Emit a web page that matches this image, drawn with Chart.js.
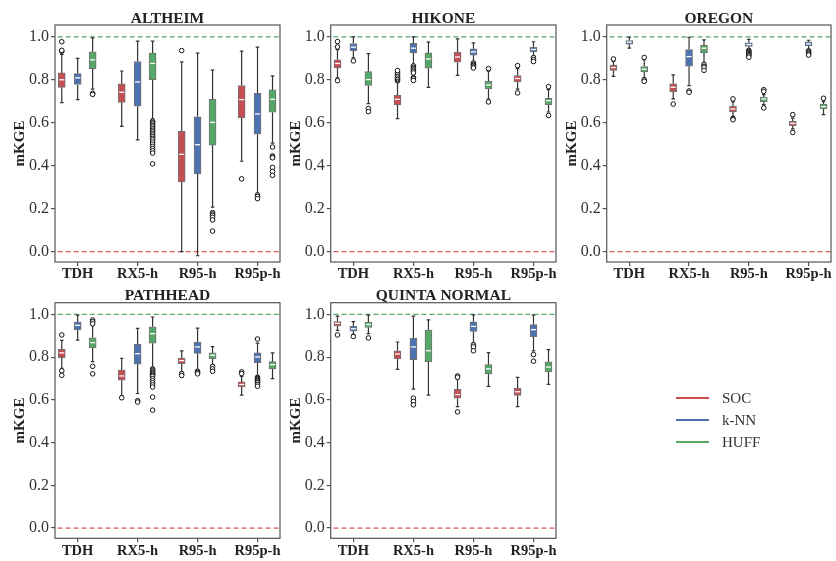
<!DOCTYPE html>
<html><head><meta charset="utf-8">
<script src="https://cdn.jsdelivr.net/npm/chart.js@4/dist/chart.umd.min.js"></script>
<style>
html,body{margin:0;padding:0;background:#fff;}
#wrap{position:relative;width:836px;height:561px;overflow:hidden;background:#fff;}
#wrap canvas{position:absolute;left:0;top:0;}
.leg{position:absolute;font-family:'Liberation Serif',serif;font-size:15px;color:#333;line-height:18px;}
.legline{position:absolute;height:2.5px;width:33px;}
</style></head>
<body><div id="wrap"></div>
<script>
// ---------------- DATA ----------------
const CATEGORIES = ['TDH', 'RX5-h', 'R95-h', 'R95p-h'];
const SERIES = ['SOC', 'k-NN', 'HUFF'];
const Y_TICKS = [0.0, 0.2, 0.4, 0.6, 0.8, 1.0];
const REF_LINES = [1.0, 0.0];
const STATIONS = ['ALTHEIM', 'HIKONE', 'OREGON', 'PATHHEAD', 'QUINTA NORMAL'];

// each row (one per category): [lower whisker, Q1, median, Q3, upper whisker]
const ALTHEIM_SOC  = [[0.694,0.765,0.800,0.832,0.918],[0.583,0.695,0.742,0.781,0.841],[0.000,0.325,0.453,0.560,0.883],[0.421,0.624,0.708,0.773,0.933]];
const ALTHEIM_KNN  = [[0.708,0.778,0.809,0.829,0.900],[0.520,0.677,0.790,0.885,0.980],[-0.019,0.362,0.498,0.628,0.924],[0.272,0.547,0.641,0.737,0.952]];
const ALTHEIM_HUFF = [[0.757,0.852,0.893,0.930,0.995],[0.618,0.800,0.876,0.924,0.980],[0.207,0.496,0.602,0.709,0.845],[0.505,0.649,0.709,0.753,0.818]];
const ALTHEIM_SOC_OUT  = [[0.933,0.937,0.977],[],[0.936],[0.339]];
const ALTHEIM_KNN_OUT  = [[],[],[],[0.264,0.257,0.247]];
const ALTHEIM_HUFF_OUT = [[0.737,0.732],[0.607,0.600,0.594,0.587,0.580,0.572,0.565,0.558,0.550,0.543,0.535,0.527,0.520,0.510,0.500,0.490,0.480,0.470,0.459,0.409],[0.182,0.175,0.169,0.160,0.148,0.096],[0.487,0.446,0.440,0.437,0.392,0.373,0.355]];

const HIKONE_SOC  = [[0.809,0.855,0.876,0.893,0.940],[0.619,0.683,0.709,0.728,0.788],[0.821,0.882,0.906,0.928,0.990],[0.757,0.790,0.806,0.820,0.852]];
const HIKONE_KNN  = [[0.902,0.936,0.952,0.969,1.000],[0.871,0.925,0.947,0.970,1.000],[0.885,0.915,0.930,0.944,0.972],[0.910,0.930,0.941,0.951,0.977]];
const HIKONE_HUFF = [[0.689,0.774,0.801,0.838,0.922],[0.765,0.854,0.897,0.925,0.975],[0.710,0.757,0.776,0.793,0.840],[0.650,0.684,0.703,0.714,0.754]];
const HIKONE_SOC_OUT  = [[0.953,0.978,0.796],[0.795,0.800,0.805,0.812,0.820,0.827,0.835,0.843],[],[0.866,0.739]];
const HIKONE_KNN_OUT  = [[0.888],[0.865,0.858,0.852,0.845,0.840,0.832,0.810,0.805,0.797],[0.878,0.872,0.866,0.860,0.855],[0.903,0.894,0.885]];
const HIKONE_HUFF_OUT = [[0.666,0.652],[],[0.852,0.697],[0.768,0.634]];

const OREGON_SOC  = [[0.816,0.844,0.857,0.868,0.886],[0.711,0.745,0.765,0.781,0.823],[0.630,0.650,0.664,0.676,0.697],[0.572,0.586,0.597,0.607,0.622]];
const OREGON_KNN  = [[0.947,0.966,0.975,0.983,0.998],[0.773,0.863,0.908,0.941,0.998],[0.941,0.955,0.964,0.972,0.988],[0.941,0.958,0.967,0.977,0.984]];
const OREGON_HUFF = [[0.809,0.837,0.849,0.862,0.894],[0.879,0.925,0.947,0.960,0.986],[0.684,0.698,0.711,0.720,0.731],[0.638,0.664,0.675,0.687,0.700]];
const OREGON_SOC_OUT  = [[0.897],[0.687],[0.711,0.620,0.614],[0.638,0.555]];
const OREGON_KNN_OUT  = [[],[0.748,0.742],[0.937,0.932,0.927,0.922,0.917,0.912,0.905],[0.935,0.930,0.925,0.920,0.915]];
const OREGON_HUFF_OUT = [[0.904,0.800,0.793],[0.872,0.863,0.858,0.844],[0.754,0.746,0.669],[0.714]];

const PATHHEAD_SOC  = [[0.748,0.798,0.820,0.837,0.879],[0.619,0.692,0.712,0.739,0.795],[0.733,0.770,0.784,0.796,0.829],[0.622,0.661,0.672,0.684,0.710]];
const PATHHEAD_KNN  = [[0.880,0.928,0.949,0.964,0.997],[0.630,0.767,0.816,0.860,0.935],[0.739,0.818,0.848,0.871,0.936],[0.715,0.774,0.801,0.820,0.866]];
const PATHHEAD_HUFF = [[0.779,0.843,0.868,0.891,0.950],[0.751,0.865,0.910,0.942,0.988],[0.764,0.793,0.809,0.820,0.849],[0.700,0.745,0.765,0.779,0.820]];
const PATHHEAD_SOC_OUT  = [[0.904,0.736,0.715],[0.610],[0.723,0.714],[0.731,0.723]];
const PATHHEAD_KNN_OUT  = [[],[0.596,0.590],[0.734,0.728,0.722],[0.885,0.705,0.700,0.695,0.690,0.685,0.680,0.672,0.664]];
const PATHHEAD_HUFF_OUT = [[0.974,0.966,0.956,0.757,0.722],[0.745,0.740,0.735,0.730,0.725,0.720,0.715,0.710,0.700,0.690,0.680,0.670,0.660,0.613,0.552],[0.756,0.745,0.734],[]];

const QUINTA_SOC  = [[0.925,0.946,0.958,0.967,0.992],[0.743,0.793,0.815,0.830,0.871],[0.568,0.608,0.625,0.649,0.700],[0.568,0.621,0.638,0.655,0.705]];
const QUINTA_KNN  = [[0.907,0.922,0.933,0.944,0.966],[0.650,0.788,0.848,0.888,0.992],[0.866,0.921,0.944,0.966,0.998],[0.829,0.896,0.929,0.952,0.997]];
const QUINTA_HUFF = [[0.910,0.939,0.953,0.964,0.997],[0.622,0.779,0.830,0.927,0.975],[0.663,0.722,0.745,0.765,0.821],[0.673,0.731,0.754,0.778,0.835]];
const QUINTA_SOC_OUT  = [[0.904],[],[0.712,0.706,0.544],[]];
const QUINTA_KNN_OUT  = [[0.897],[0.608,0.593,0.577],[0.857,0.848,0.830],[0.812,0.781]];
const QUINTA_HUFF_OUT = [[0.890],[],[],[]];

// ---------------- STYLE / LAYOUT ----------------
const COLORS = ['#c44e52', '#4c72b0', '#55a868'];
const REF_COLORS = ['#55a868', '#e05a5a'];
const OFFS = [-0.265, 0, 0.25];
const FONT = "'Liberation Serif', 'Times New Roman', serif";
const Y_MIN = -0.048, Y_MAX = 1.055;
const X_MIN = -0.378, X_MAX = 3.375;
const GEOM = [
  {L:55,    R:280,   T:25,    B:262},
  {L:330.7, R:556,   T:25,    B:262},
  {L:606.7, R:831.7, T:25,    B:262},
  {L:55,    R:280,   T:302.7, B:538.3},
  {L:330.7, R:556,   T:302.7, B:538.3}
];
const PANELS = [
  {stats:[ALTHEIM_SOC, ALTHEIM_KNN, ALTHEIM_HUFF], out:[ALTHEIM_SOC_OUT, ALTHEIM_KNN_OUT, ALTHEIM_HUFF_OUT]},
  {stats:[HIKONE_SOC, HIKONE_KNN, HIKONE_HUFF], out:[HIKONE_SOC_OUT, HIKONE_KNN_OUT, HIKONE_HUFF_OUT]},
  {stats:[OREGON_SOC, OREGON_KNN, OREGON_HUFF], out:[OREGON_SOC_OUT, OREGON_KNN_OUT, OREGON_HUFF_OUT]},
  {stats:[PATHHEAD_SOC, PATHHEAD_KNN, PATHHEAD_HUFF], out:[PATHHEAD_SOC_OUT, PATHHEAD_KNN_OUT, PATHHEAD_HUFF_OUT]},
  {stats:[QUINTA_SOC, QUINTA_KNN, QUINTA_HUFF], out:[QUINTA_SOC_OUT, QUINTA_KNN_OUT, QUINTA_HUFF_OUT]}
];

const boxPlugin = {
  id: 'boxExtras',
  beforeDatasetDraw(chart, args) {
    const meta = args.meta;
    if (meta.type !== 'bar') return;
    const ds = chart.data.datasets[args.index];
    const ys = chart.scales.y, ctx = chart.ctx, a = chart.chartArea;
    ctx.save();
    ctx.beginPath(); ctx.rect(a.left, a.top, a.right - a.left, a.bottom - a.top); ctx.clip();
    ctx.strokeStyle = '#333'; ctx.lineWidth = 1.2;
    ds.stats.forEach((s, i) => {
      const el = meta.data[i]; const x = el.x;
      const yLo = ys.getPixelForValue(s[0]), yQ1 = ys.getPixelForValue(s[1]);
      const yQ3 = ys.getPixelForValue(s[3]), yHi = ys.getPixelForValue(s[4]);
      ctx.beginPath();
      ctx.moveTo(x, yQ1); ctx.lineTo(x, yLo);
      ctx.moveTo(x, yQ3); ctx.lineTo(x, yHi);
      ctx.moveTo(x - 1.8, yLo); ctx.lineTo(x + 1.8, yLo);
      ctx.moveTo(x - 1.8, yHi); ctx.lineTo(x + 1.8, yHi);
      ctx.stroke();
    });
    ctx.restore();
  },
  afterDatasetDraw(chart, args) {
    const meta = args.meta;
    if (meta.type !== 'bar') return;
    const ds = chart.data.datasets[args.index];
    const ys = chart.scales.y, ctx = chart.ctx;
    ctx.save();
    ctx.strokeStyle = '#ffffff'; ctx.lineWidth = 1.3;
    ds.stats.forEach((s, i) => {
      const el = meta.data[i];
      const y = ys.getPixelForValue(s[2]);
      ctx.beginPath();
      ctx.moveTo(el.x - el.width / 2 + 1, y); ctx.lineTo(el.x + el.width / 2 - 1, y);
      ctx.stroke();
    });
    ctx.restore();
  },
  afterDraw(chart) {
    const ctx = chart.ctx, a = chart.chartArea;
    ctx.save();
    ctx.strokeStyle = '#555'; ctx.lineWidth = 1.2;
    ctx.strokeRect(a.left, a.top, a.right - a.left, a.bottom - a.top);
    ctx.fillStyle = '#222';
    ctx.font = 'bold 15.5px ' + FONT;
    ctx.textAlign = 'center'; ctx.textBaseline = 'alphabetic';
    ctx.fillText(chart.options.plugins.boxExtras.title, (a.left + a.right) / 2, a.top - 2.5);
    ctx.restore();
  }
};

const wrap = document.getElementById('wrap');
PANELS.forEach((p, pi) => {
  const g = GEOM[pi];
  const cv = document.createElement('canvas');
  cv.width = 836; cv.height = 561;
  cv.style.width = '836px'; cv.style.height = '561px';
  wrap.appendChild(cv);
  const datasets = [];
  REF_LINES.forEach((v, ri) => {
    datasets.push({type:'line', data:[{x:-1, y:v}, {x:CATEGORIES.length, y:v}],
      borderColor:REF_COLORS[ri], borderWidth:1.3, borderDash:[5, 3], pointRadius:0, order:3});
  });
  p.stats.forEach((st, si) => {
    datasets.push({type:'bar', label:SERIES[si], stats:st,
      data: st.map((r, ci) => ({x: ci + OFFS[si], y: [r[1], r[3]]})),
      backgroundColor: COLORS[si], borderColor: 'rgba(100,100,100,0.9)', borderWidth: 1,
      borderSkipped: false, barThickness: 7, grouped: false, order: 2});
  });
  p.out.forEach((oo, si) => {
    const pts = [];
    oo.forEach((arr, ci) => arr.forEach(v => pts.push({x: ci + OFFS[si], y: v})));
    datasets.push({type:'scatter', data: pts, pointRadius: 2.3, pointBackgroundColor: '#fff',
      pointBorderColor: '#111', pointBorderWidth: 1, order: 1});
  });
  new Chart(cv, {
    type: 'bar',
    data: {datasets},
    options: {
      responsive: false, animation: false, devicePixelRatio: 1,
      layout: {padding: {left: g.L - 46, right: 836 - g.R, top: g.T, bottom: 561 - g.B - 22}},
      plugins: {legend: {display: false}, tooltip: {enabled: false}, boxExtras: {title: STATIONS[pi]}},
      scales: {
        x: {type: 'linear', min: X_MIN, max: X_MAX, offset: false,
          grid: {display: true, drawOnChartArea: false, drawTicks: true, tickLength: 4, color: '#555', lineWidth: 1.2, offset: false},
          border: {display: false},
          ticks: {padding: 0, autoSkip: false, maxRotation: 0, color: '#222',
            font: {family: FONT, size: 14.5, weight: 'bold'},
            callback: (v) => CATEGORIES[v]},
          afterBuildTicks: (s) => { s.ticks = CATEGORIES.map((c, i) => ({value: i})); },
          afterFit: (s) => { s.height = 22; }
        },
        y: {type: 'linear', min: Y_MIN, max: Y_MAX,
          grid: {display: true, drawOnChartArea: false, drawTicks: true, tickLength: 4, color: '#555', lineWidth: 1.2},
          border: {display: false},
          ticks: {padding: 2, color: '#333', font: {family: FONT, size: 16},
            callback: (v) => Number(v).toFixed(1)},
          afterBuildTicks: (s) => { s.ticks = Y_TICKS.map(v => ({value: v})); },
          afterFit: (s) => { s.width = 46; },
          title: {display: true, text: 'mKGE', color: '#222', font: {family: FONT, size: 15, weight: 'bold'}, padding: {top: 2, bottom: 0}}
        }
      }
    },
    plugins: [boxPlugin]
  });
});

// legend (HTML)
const LEG_Y = [398, 420, 442];
SERIES.forEach((s, i) => {
  const ln = document.createElement('div');
  ln.className = 'legline';
  ln.style.left = '676px'; ln.style.top = (LEG_Y[i] - 1.25) + 'px';
  ln.style.background = COLORS[i];
  wrap.appendChild(ln);
  const t = document.createElement('div');
  t.className = 'leg';
  t.style.left = '722px'; t.style.top = (LEG_Y[i] - 9) + 'px';
  t.textContent = s;
  wrap.appendChild(t);
});
</script>
</body></html>
